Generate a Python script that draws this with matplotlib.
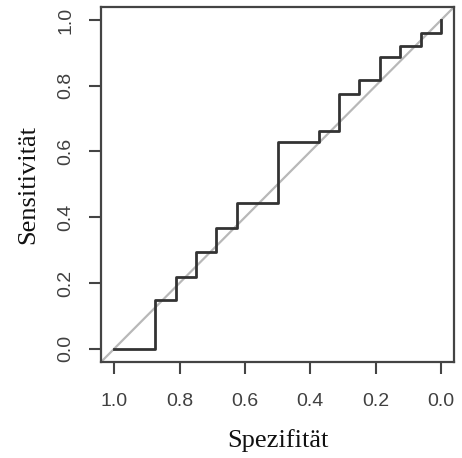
#!/usr/bin/env python3
"""ROC curve (Spezifitaet vs. Sensitivitaet), R/pROC-style."""

import matplotlib
matplotlib.use('Agg')
import matplotlib.pyplot as plt

# Step points of the ROC curve (specificity descending)
spezifitaet = [1.0, 0.875, 0.8125, 0.75, 0.6875, 0.625, 0.5, 0.375,
               0.3125, 0.25, 0.1875, 0.125, 0.0625, 0.0]
sensitivitaet = [0.0, 0.148, 0.219, 0.293, 0.367, 0.444, 0.630, 0.663,
                 0.775, 0.817, 0.887, 0.920, 0.960, 1.0]
tick_values = [1.0, 0.8, 0.6, 0.4, 0.2, 0.0]
tick_labels = ['1.0', '0.8', '0.6', '0.4', '0.2', '0.0']

fig = plt.figure(figsize=(4.62, 4.58), dpi=100)
ax = fig.add_axes([0.219, 0.210, 0.764, 0.775])

# Reference diagonal across the whole plot region
ax.plot([1.04, -0.04], [-0.04, 1.04], color='#b8b8b8', lw=1.6, zorder=1)

# ROC curve
ax.plot(spezifitaet, sensitivitaet, drawstyle='steps-post',
        color='#333333', lw=2.0, zorder=2)

ax.set_xlim(1.04, -0.04)
ax.set_ylim(-0.04, 1.04)

ax.set_xticks(tick_values)
ax.set_xticklabels(tick_labels, family='Liberation Sans', fontsize=14)
ax.set_yticks(tick_values)
ax.set_yticklabels(tick_labels, rotation=90, va='center',
                   family='Liberation Sans', fontsize=14)

for side in ax.spines.values():
    side.set_color('#444444')
    side.set_linewidth(1.6)

ax.tick_params(axis='both', direction='out', length=8.5, width=1.5,
               color='#444444', labelcolor='#404040')
ax.tick_params(axis='x', pad=14)
ax.tick_params(axis='y', pad=11)

ax.set_xlabel('Spezifität', family='Liberation Serif', fontsize=19,
              color='#111111', labelpad=14)
ax.set_ylabel('Sensitivität', family='Liberation Serif', fontsize=19,
              color='#111111', labelpad=13)

plt.savefig('out.png', dpi=100)
